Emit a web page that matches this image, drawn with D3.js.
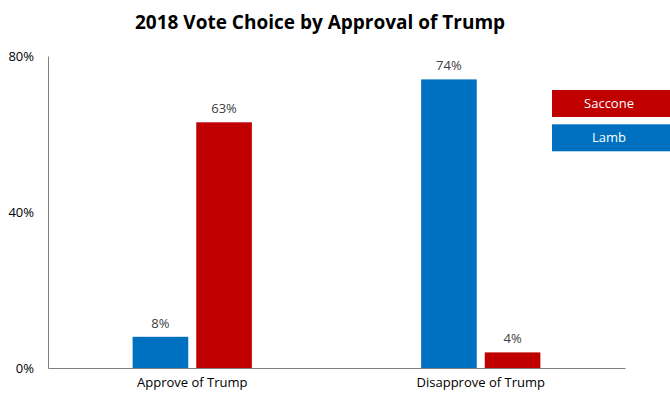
<!DOCTYPE html>
<html><head><meta charset="utf-8">
<script src="https://cdn.jsdelivr.net/npm/d3@7"></script>
<style>body{margin:0;background:#fff}svg{display:block}</style>
</head><body>
<script>
const categories = ["Approve of Trump", "Disapprove of Trump"];
const seriesNames = ["Lamb", "Saccone"];
const lambValues = [8, 74];
const sacconeValues = [63, 4];
const yTicks = [0, 40, 80];
const colors = {Lamb: "#0070C0", Saccone: "#C00000"};

const W = 670, H = 405;
const svg = d3.select("body").append("svg").attr("width", W).attr("height", H);
const font = "'Open Sans', sans-serif";

const x0 = d3.scaleBand().domain(categories).range([48, 625]).paddingInner(0).paddingOuter(0);
const x1 = d3.scaleBand().domain(seriesNames).range([0, x0.bandwidth()]).paddingInner(0.126).paddingOuter(1.33);
const y = d3.scaleLinear().domain([0, 80]).range([368, 56]);

svg.append("text").attr("x", 320).attr("y", 29).attr("text-anchor", "middle")
  .attr("font-family", font).attr("font-weight", "bold").attr("font-size", 19).attr("fill", "#000")
  .text("2018 Vote Choice by Approval of Trump");

const data = categories.map((c, i) => ({cat: c, vals: [{s: "Lamb", v: lambValues[i]}, {s: "Saccone", v: sacconeValues[i]}]}));

const g = svg.selectAll("g.cat").data(data).join("g").attr("class", "cat")
  .attr("transform", d => `translate(${x0(d.cat)},0)`);
g.selectAll("rect").data(d => d.vals).join("rect")
  .attr("x", d => x1(d.s)).attr("width", x1.bandwidth())
  .attr("y", d => y(d.v)).attr("height", d => y(0) - y(d.v))
  .attr("fill", d => colors[d.s]);
g.selectAll("text.lbl").data(d => d.vals).join("text").attr("class", "lbl")
  .attr("x", d => x1(d.s) + x1.bandwidth() / 2).attr("y", d => y(d.v) - 9)
  .attr("text-anchor", "middle").attr("font-family", font).attr("font-size", 13).attr("fill", "#404040")
  .text(d => d.v + "%");

// y axis
const ya = svg.append("g").attr("transform", "translate(48,0)")
  .call(d3.axisLeft(y).tickValues(yTicks).tickSize(0).tickPadding(14).tickFormat(d => d + "%"));
ya.select(".domain").attr("stroke", "#808080").attr("stroke-width", 1);
ya.selectAll("text").attr("font-family", font).attr("font-size", 13).attr("fill", "#000");

// x axis
const xa = svg.append("g").attr("transform", "translate(0,368)")
  .call(d3.axisBottom(x0).tickSize(0).tickPadding(10));
xa.select(".domain").attr("stroke", "#808080").attr("stroke-width", 1);
xa.selectAll("text").attr("font-family", font).attr("font-size", 13).attr("fill", "#000");

// legend
const legendOrder = ["Saccone", "Lamb"];
const lg = svg.selectAll("g.leg").data(legendOrder).join("g").attr("class", "leg")
  .attr("transform", (d, i) => `translate(552,${90 + i * 34.3})`);
lg.append("rect").attr("width", 118).attr("height", 27).attr("fill", d => colors[d]);
lg.append("text").attr("x", 57).attr("y", 18).attr("text-anchor", "middle")
  .attr("font-family", font).attr("font-size", 13).attr("fill", "#fff").text(d => d);
</script>
</body></html>
